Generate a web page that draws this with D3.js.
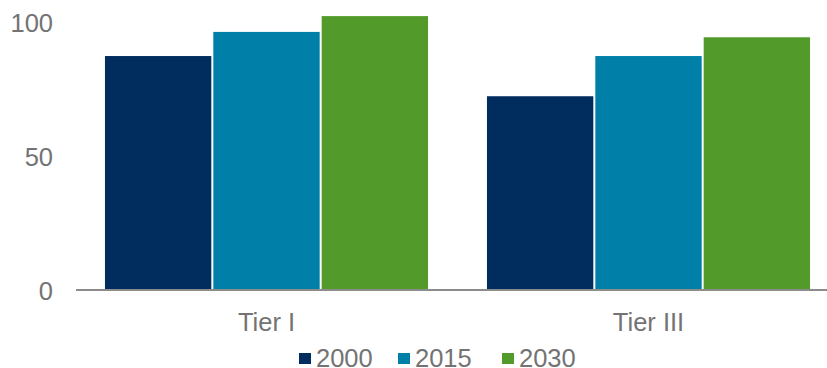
<!DOCTYPE html>
<html>
<head>
<meta charset="utf-8">
<script src="https://cdn.jsdelivr.net/npm/d3@7"></script>
<style>
  html, body { margin: 0; padding: 0; background: #fff; }
  svg { display: block; font-family: "Liberation Sans", Arial, sans-serif; }
</style>
</head>
<body>
<svg id="chart" width="827" height="368"></svg>
<script>
// Chart data
const categories = ["Tier I", "Tier III"];
const seriesNames = ["2000", "2015", "2030"];
const values2000 = [87.3, 72.3];
const values2015 = [96.3, 87.3];
const values2030 = [102.2, 94.3];
const yTicks = [0, 50, 100];
const seriesColors = ["#002d5e", "#0080a8", "#529a29"];

const seriesValues = [values2000, values2015, values2030];
const rows = categories.map((c, i) => ({
  category: c,
  items: seriesNames.map((s, j) => ({ series: s, value: seriesValues[j][i], color: seriesColors[j] }))
}));

const textColor = "#737373";
const fontSize = 25.5;

const svg = d3.select("#chart");

const y = d3.scaleLinear().domain([0, 100]).range([290, 22]);
const x0 = d3.scaleBand().domain(categories).range([75.5, 839.5])
  .paddingInner(0.149).paddingOuter(0.0745);
const x1 = d3.scaleBand().domain(seriesNames).range([0, x0.bandwidth()]);

// Bars
const groups = svg.append("g").selectAll("g")
  .data(rows).join("g")
  .attr("transform", d => `translate(${x0(d.category)},0)`);

groups.selectAll("rect")
  .data(d => d.items).join("rect")
  .attr("x", d => x1(d.series) + 1)
  .attr("width", x1.bandwidth() - 2)
  .attr("y", d => y(d.value))
  .attr("height", d => y(0) - y(d.value))
  .attr("fill", d => d.color);

// Y axis labels (no axis line)
const yAxis = d3.axisLeft(y).tickValues(yTicks).tickSize(0).tickPadding(0);
const yg = svg.append("g").attr("transform", "translate(53,0)").call(yAxis);
yg.select(".domain").remove();
yg.selectAll("text")
  .attr("fill", textColor)
  .attr("font-size", fontSize)
  .attr("font-family", "Liberation Sans, Arial, sans-serif")
  .attr("text-anchor", "end")
  .attr("x", 0)
  .attr("dy", "0.36em");

// X axis baseline and category labels
const xAxis = d3.axisBottom(x0).tickSize(0).tickPadding(0);
const xg = svg.append("g").attr("transform", `translate(0,${y(0)})`).call(xAxis);
xg.select(".domain")
  .attr("stroke", "#8c8c8c")
  .attr("stroke-width", 2)
  .attr("d", `M76,0H827`);
xg.selectAll("text")
  .attr("fill", textColor)
  .attr("font-size", fontSize)
  .attr("font-family", "Liberation Sans, Arial, sans-serif")
  .attr("y", 41)
  .attr("dy", 0);

// Legend
const legendX = [299, 398, 502];
const legend = svg.append("g").selectAll("g")
  .data(seriesNames).join("g")
  .attr("transform", (d, i) => `translate(${legendX[i]},353)`);
legend.append("rect")
  .attr("width", 12).attr("height", 11)
  .attr("fill", (d, i) => seriesColors[i]);
legend.append("text")
  .attr("x", 17).attr("y", 13.5)
  .attr("fill", textColor)
  .attr("font-size", fontSize)
  .text(d => d);
</script>
</body>
</html>
